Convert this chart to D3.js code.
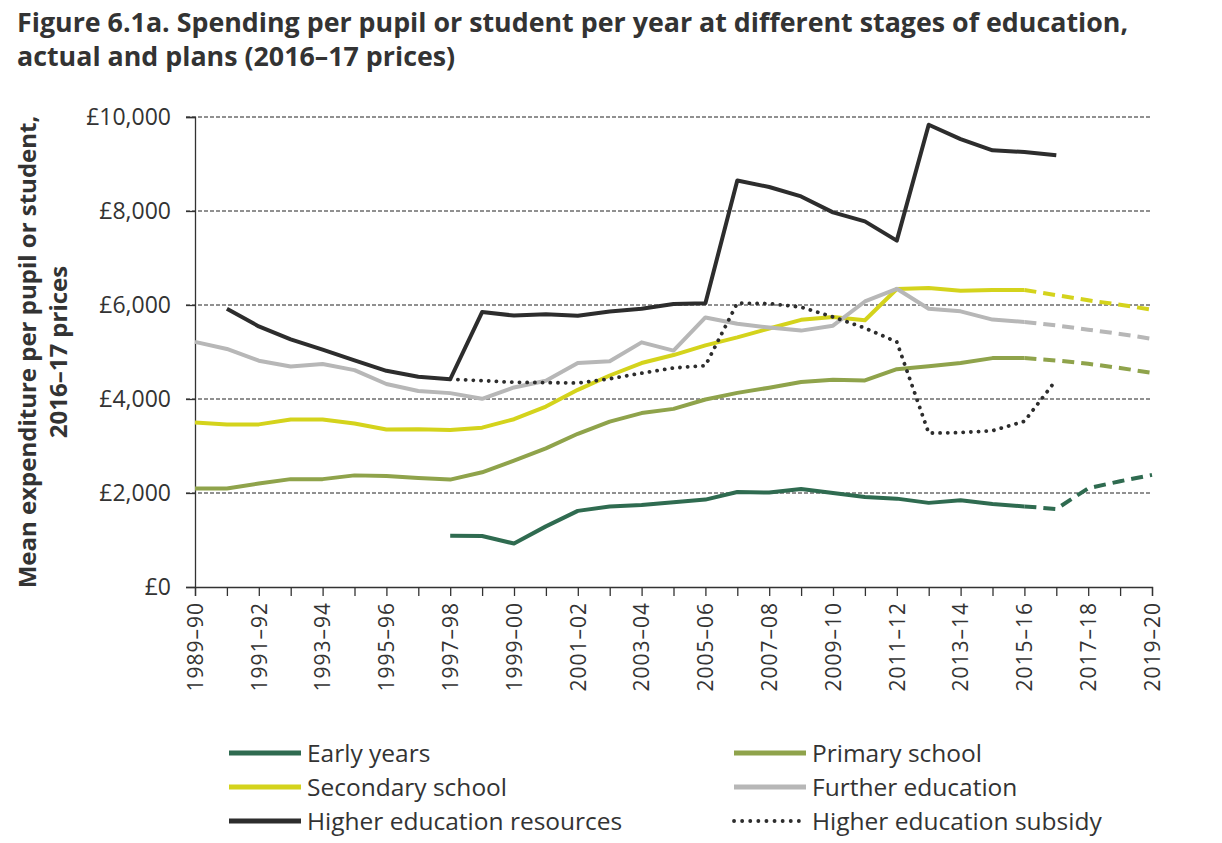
<!DOCTYPE html>
<html>
<head>
<meta charset="utf-8">
<script src="https://cdn.jsdelivr.net/npm/d3@7"></script>
<style>
  body { margin: 0; background: #fff; }
  text { font-family: "Open Sans", "Noto Sans", sans-serif; }
</style>
</head>
<body>
<div id="chart"></div>
<script>
// financial years on the x axis
const years = ["1989–90", "1990–91", "1991–92", "1992–93", "1993–94", "1994–95", "1995–96",
    "1996–97", "1997–98", "1998–99", "1999–00", "2000–01", "2001–02", "2002–03", "2003–04",
    "2004–05", "2005–06", "2006–07", "2007–08", "2008–09", "2009–10", "2010–11", "2011–12",
    "2012–13", "2013–14", "2014–15", "2015–16", "2016–17", "2017–18", "2018–19", "2019–20"];

const yTicks = [0, 2000, 4000, 6000, 8000, 10000];

// actual spending (2016-17 prices), null where no data
const earlyYears = [null, null, null, null, null, null, null, null, 1090, 1085, 925, 1290, 1620, 1715,
    1745, 1805, 1860, 2020, 2010, 2085, 2000, 1915, 1880, 1790, 1845, 1765, 1715, null, null, null, null];
const primary = [2095, 2095, 2200, 2295, 2295, 2375, 2360, 2320, 2285, 2440, 2690, 2950, 3260, 3520,
    3700, 3790, 3990, 4130, 4240, 4360, 4410, 4395, 4635, 4695, 4765, 4870, 4870, null, null, null, null];
const secondary = [3500, 3455, 3460, 3565, 3565, 3480, 3350, 3355, 3340, 3390, 3570, 3840, 4195, 4500,
    4765, 4935, 5140, 5310, 5500, 5685, 5745, 5675, 6340, 6360, 6305, 6320, 6320, null, null, null, null];
const further = [5215, 5065, 4815, 4690, 4745, 4615, 4320, 4170, 4125, 4005, 4245, 4390, 4765, 4805,
    5205, 5030, 5735, 5600, 5520, 5455, 5560, 6075, 6345, 5920, 5865, 5690, 5640, null, null, null, null];
const heResources = [null, 5920, 5545, 5270, 5050, 4820, 4600, 4475, 4420, 5850, 5775, 5805, 5770, 5860,
    5920, 6020, 6035, 8650, 8510, 8310, 7970, 7780, 7370, 9835, 9530, 9290, 9255, 9185, null, null, null];
const heSubsidy = [null, null, null, null, null, null, null, null, 4420, 4390, 4355, 4350, 4340, 4430,
    4550, 4660, 4710, 6040, 6030, 5955, 5745, 5510, 5215, 3275, 3285, 3325, 3525, 4410, null, null, null];

// plans (dashed)
const earlyYearsPlans = [null, null, null, null, null, null, null, null, null, null, null, null, null, null,
    null, null, null, null, null, null, null, null, null, null, null, null, 1715, 1660, 2100, 2250, 2385];
const primaryPlans = [null, null, null, null, null, null, null, null, null, null, null, null, null, null,
    null, null, null, null, null, null, null, null, null, null, null, null, 4870, 4820, 4750, 4660, 4555];
const secondaryPlans = [null, null, null, null, null, null, null, null, null, null, null, null, null, null,
    null, null, null, null, null, null, null, null, null, null, null, null, 6320, 6210, 6100, 6005, 5900];
const furtherPlans = [null, null, null, null, null, null, null, null, null, null, null, null, null, null,
    null, null, null, null, null, null, null, null, null, null, null, null, 5640, 5565, 5475, 5385, 5280];

const colours = {
    early: "#2f6b50",
    primary: "#8fa34b",
    secondary: "#d4d31c",
    further: "#b7b7b7",
    he: "#2d2d2d"
};

const width = 1222, height = 843;
const plotLeft = 195, plotRight = 1152, plotTop = 117, plotBottom = 587;

const svg = d3.select("#chart")
    .append("svg")
    .attr("width", width)
    .attr("height", height);

// title
svg.append("text")
    .attr("x", 17)
    .attr("y", 32)
    .style("font-size", "26.8px")
    .style("font-weight", "bold")
    .style("fill", "#333")
    .text("Figure 6.1a. Spending per pupil or student per year at different stages of education,");
svg.append("text")
    .attr("x", 17)
    .attr("y", 66)
    .style("font-size", "26.8px")
    .style("font-weight", "bold")
    .style("fill", "#333")
    .text("actual and plans (2016–17 prices)");

const x = d3.scalePoint()
    .domain(years)
    .range([plotLeft, plotRight]);

const y = d3.scaleLinear()
    .domain([0, 10000])
    .range([plotBottom, plotTop]);

// gridlines
svg.append("g")
    .selectAll("line")
    .data(yTicks.filter(d => d > 0))
    .enter()
    .append("line")
    .attr("x1", plotLeft - 9)
    .attr("x2", plotRight)
    .attr("y1", d => y(d))
    .attr("y2", d => y(d))
    .attr("stroke", "#222")
    .attr("stroke-width", 1)
    .attr("stroke-dasharray", "4,2");

// y axis
const yAxis = svg.append("g")
    .attr("transform", `translate(${plotLeft},0)`)
    .call(d3.axisLeft(y)
        .tickValues(yTicks)
        .tickSize(9)
        .tickPadding(15)
        .tickFormat(d => "£" + d3.format(",")(d)));
yAxis.select(".domain").attr("stroke", "#333").attr("stroke-width", 1.3);
yAxis.selectAll(".tick line").attr("stroke", "#333").attr("stroke-width", 1.3);
yAxis.selectAll("text")
    .style("font-size", "23px")
    .style("font-family", "'Open Sans', sans-serif")
    .style("fill", "#333");

// x axis
const xAxis = svg.append("g")
    .attr("transform", `translate(0,${plotBottom})`)
    .call(d3.axisBottom(x)
        .tickSize(9)
        .tickFormat((d, i) => i % 2 === 0 ? d : ""));
xAxis.select(".domain").attr("stroke", "#333").attr("stroke-width", 1.3);
xAxis.selectAll(".tick line").attr("stroke", "#333").attr("stroke-width", 1.3);
xAxis.selectAll("text")
    .attr("transform", "rotate(-90)")
    .attr("x", -15)
    .attr("y", 0)
    .attr("dy", "0.35em")
    .style("text-anchor", "end")
    .style("font-size", "21px")
    .style("letter-spacing", "1px")
    .style("font-family", "'Open Sans', sans-serif")
    .style("fill", "#333");

// y label
const yLabel = svg.append("text")
    .attr("transform", `translate(0,${(plotTop + plotBottom) / 2}) rotate(-90)`)
    .style("text-anchor", "middle")
    .style("font-size", "24px")
    .style("font-weight", "bold")
    .style("fill", "#333");
yLabel.append("tspan").attr("x", 0).attr("y", 36).text("Mean expenditure per pupil or student,");
yLabel.append("tspan").attr("x", 0).attr("y", 67).text("2016–17 prices");

// lines
const line = d3.line()
    .defined(d => d != null)
    .x((d, i) => x(years[i]))
    .y(d => y(d));

function drawLine(values, colour, dash, w) {
    svg.append("path")
        .datum(values)
        .attr("fill", "none")
        .attr("stroke", colour)
        .attr("stroke-width", w || 4)
        .attr("stroke-linejoin", "round")
        .attr("stroke-linecap", dash === "dot" ? "round" : "butt")
        .attr("stroke-dasharray", dash === "dot" ? "0.1,7.6" : dash)
        .attr("d", line);
}

drawLine(earlyYears, colours.early, null);
drawLine(earlyYearsPlans, colours.early, "12,7");
drawLine(primary, colours.primary, null);
drawLine(primaryPlans, colours.primary, "12,7");
drawLine(secondary, colours.secondary, null);
drawLine(secondaryPlans, colours.secondary, "12,7");
drawLine(further, colours.further, null);
drawLine(furtherPlans, colours.further, "12,7");
drawLine(heResources, colours.he, null);
drawLine(heSubsidy, colours.he, "dot", 3.8);

// legend
const legendItems = [
    {label: "Early years", colour: colours.early, dash: null, col: 0, row: 0},
    {label: "Primary school", colour: colours.primary, dash: null, col: 1, row: 0},
    {label: "Secondary school", colour: colours.secondary, dash: null, col: 0, row: 1},
    {label: "Further education", colour: colours.further, dash: null, col: 1, row: 1},
    {label: "Higher education resources", colour: colours.he, dash: null, col: 0, row: 2},
    {label: "Higher education subsidy", colour: colours.he, dash: "dot", col: 1, row: 2}
];

const legend = svg.append("g").attr("transform", "translate(229,753)");
const legendRow = legend.selectAll("g")
    .data(legendItems)
    .enter()
    .append("g")
    .attr("transform", d => `translate(${d.col * 505},${d.row * 34})`);

legendRow.append("line")
    .attr("x1", 0)
    .attr("x2", 72)
    .attr("y1", 0)
    .attr("y2", 0)
    .attr("stroke", d => d.colour)
    .attr("stroke-width", d => d.dash === "dot" ? 3.8 : 5)
    .attr("stroke-linecap", d => d.dash === "dot" ? "round" : "butt")
    .attr("stroke-dasharray", d => d.dash === "dot" ? "0.1,8" : null);

legendRow.append("text")
    .attr("x", 78)
    .attr("y", 0)
    .attr("dy", "0.35em")
    .style("font-size", "24.5px")
    .style("fill", "#333")
    .text(d => d.label);
</script>
</body>
</html>
